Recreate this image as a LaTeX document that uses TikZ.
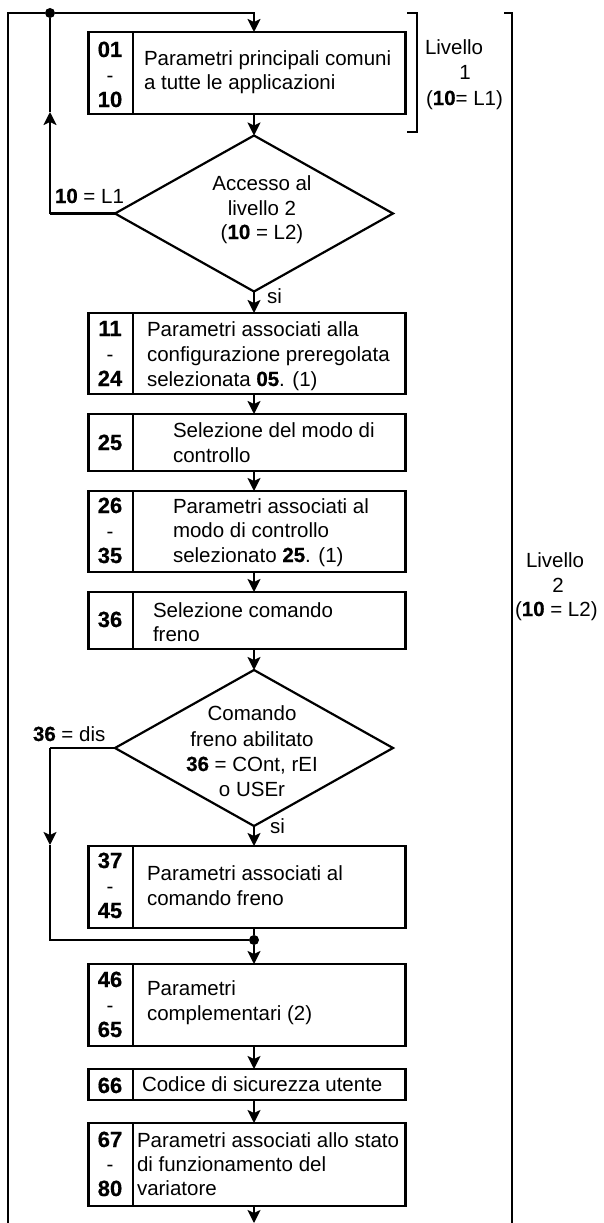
\documentclass[tikz,border=0pt]{standalone}
\usepackage{fontspec}
\setmainfont{Liberation Sans}
\newfontfamily\numfont[BoldFeatures={FakeBold=0.6}]{Liberation Sans}
\usetikzlibrary{shapes.geometric,arrows.meta}
\tikzset{
  ln/.style={line width=2.2pt},
  arr/.style={ln,-{Stealth[length=13pt,width=13pt,inset=3pt]}},
  box/.style={draw,ln,rectangle,anchor=north west,minimum width=317pt,inner sep=0pt,outer sep=0pt},
  dia/.style={draw,ln,diamond,minimum width=278pt,minimum height=156pt,inner sep=0pt,outer sep=0pt},
  txt/.style={font=\fontsize{20.5}{25}\selectfont,anchor=base west,inner sep=0pt,outer sep=0pt},
  ctxt/.style={txt,anchor=base},
  num/.style={font=\fontsize{22}{25}\selectfont\numfont\bfseries,anchor=base,inner sep=0pt},
  dsh/.style={font=\fontsize{20.5}{25}\selectfont,anchor=base,inner sep=0pt},
  dotn/.style={circle,fill,minimum size=10pt,inner sep=0pt},
}
\newcommand{\bn}[1]{{\numfont\bfseries #1}}
\begin{document}
\begin{tikzpicture}[x=1pt,y=-1pt]
\useasboundingbox (0,0) rectangle (604,1223);

% boxes
\node[box,minimum height=82pt] (b1) at (88.5,32) {};
\node[box,minimum height=81pt] (b2) at (88.5,313) {};
\node[box,minimum height=57pt] (b3) at (88.5,414) {};
\node[box,minimum height=81pt] (b4) at (88.5,491) {};
\node[box,minimum height=57pt] (b5) at (88.5,592) {};
\node[box,minimum height=82pt] (b6) at (88.5,846) {};
\node[box,minimum height=82pt] (b7) at (88.5,964) {};
\node[box,minimum height=31pt] (b8) at (88.5,1069) {};
\node[box,minimum height=83pt] (b9) at (88.5,1123) {};
\foreach \b in {b1,b2,b3,b4,b5,b6,b7,b8,b9}
  \draw[ln] ([xshift=44.5pt]\b.north west) -- ([xshift=44.5pt]\b.south west);

% diamonds
\node[dia] (d1) at (254,213.5) {};
\node[dia] (d2) at (254,748) {};

% top loop
\coordinate (tl) at (8,13);
\node[dotn] (dot1) at (50,13) {};
\coordinate (tr) at (254,13);
\coordinate (bl) at (8,1223);
\draw[ln] (bl) -- (tl) -- (dot1);
\draw[arr] (dot1) -- (tr) -- (b1.north -| tr);
\coordinate (c1) at (50,213.5);
\coordinate (m1) at (50,112);
\draw[ln] (d1.west) -- (c1);
\draw[arr] (c1) -- (m1);
\draw[ln] (m1) -- (dot1);

% main flow arrows
\draw[arr] (b1.south -| d1.north) -- (d1.north);
\draw[arr] (d1.south) -- (b2.north -| d1.south);
\draw[arr] (b2.south -| d1.south) -- (b3.north -| d1.south);
\draw[arr] (b3.south -| d1.south) -- (b4.north -| d1.south);
\draw[arr] (b4.south -| d1.south) -- (b5.north -| d1.south);
\draw[arr] (b5.south -| d2.north) -- (d2.north);
\draw[arr] (d2.south) -- (b6.north -| d2.south);
\node[dotn] (dot2) at (254,940) {};
\draw[ln] (b6.south -| dot2) -- (dot2);
\draw[arr] (dot2) -- (b7.north -| dot2);
\draw[arr] (b7.south -| dot2) -- (b8.north -| dot2);
\draw[arr] (b8.south -| dot2) -- (b9.north -| dot2);
\coordinate (endp) at (254,1223);
\draw[arr] (b9.south -| endp) -- (endp);

% second loop
\coordinate (c2) at (50,748);
\coordinate (m2) at (50,845);
\coordinate (c3) at (50,940);
\draw[ln] (d2.west) -- (c2);
\draw[arr] (c2) -- (m2);
\draw[ln] (m2) -- (c3) -- (dot2);

% brackets
\draw[ln] (407,13) -- (417,13) -- (417,132) -- (407,132);
\draw[ln] (504,13) -- (512,13) -- (512,1223);

% numbers
\node[num] (n1a) at (110,57) {01};
\node[dsh] (n1b) at (110,82) {-};
\node[num] (n1c) at (110,107) {10};
\node[num] (n2a) at (110,336) {11};
\node[dsh] (n2b) at (110,361) {-};
\node[num] (n2c) at (110,386) {24};
\node[num] (n3a) at (110,450) {25};
\node[num] (n4a) at (110,513) {26};
\node[dsh] (n4b) at (110,538) {-};
\node[num] (n4c) at (110,563) {35};
\node[num] (n5a) at (110,627) {36};
\node[num] (n6a) at (110,868) {37};
\node[dsh] (n6b) at (110,893) {-};
\node[num] (n6c) at (110,918) {45};
\node[num] (n7a) at (110,987) {46};
\node[dsh] (n7b) at (110,1012) {-};
\node[num] (n7c) at (110,1037) {65};
\node[num] (n8a) at (110,1093) {66};
\node[num] (n9a) at (110,1147) {67};
\node[dsh] (n9b) at (110,1171) {-};
\node[num] (n9c) at (110,1196) {80};

% box texts
\node[txt] (t1a) at (144,66) {Parametri principali comuni};
\node[txt] (t1b) at (144,89) {a tutte le applicazioni};
\node[txt] (t2a) at (147,336) {Parametri associati alla};
\node[txt] (t2b) at (147,361) {configurazione preregolata};
\node[txt] (t2c) at (147,386) {selezionata \bn{05}. (1)};
\node[txt] (t3a) at (173,437) {Selezione del modo di};
\node[txt] (t3b) at (173,462) {controllo};
\node[txt] (t4a) at (173,513) {Parametri associati al};
\node[txt] (t4b) at (173,537) {modo di controllo};
\node[txt] (t4c) at (173,562) {selezionato \bn{25}. (1)};
\node[txt] (t5a) at (153,617) {Selezione comando};
\node[txt] (t5b) at (153,641) {freno};
\node[txt] (t6a) at (147,880) {Parametri associati al};
\node[txt] (t6b) at (147,905) {comando freno};
\node[txt] (t7a) at (147,995) {Parametri};
\node[txt] (t7b) at (147,1020) {complementari (2)};
\node[txt] (t8a) at (142,1091) {Codice di sicurezza utente};
\node[txt] (t9a) at (137,1147) {Parametri associati allo stato};
\node[txt] (t9b) at (137,1171) {di funzionamento del};
\node[txt] (t9c) at (137,1195) {variatore};

% diamond texts
\node[ctxt] (q1a) at (262,190) {Accesso al};
\node[ctxt] (q1b) at (262,215) {livello 2};
\node[ctxt] (q1c) at (262,239) {(\bn{10} = L2)};
\node[ctxt] (q2a) at (252,720) {Comando};
\node[ctxt] (q2b) at (252,746) {freno abilitato};
\node[ctxt] (q2c) at (252,771) {\bn{36} = COnt, rEI};
\node[ctxt] (q2d) at (252,796) {o USEr};

% branch labels
\node[txt] (l1) at (55,203) {\bn{10} = L1};
\node[txt] (l2) at (33,741) {\bn{36} = dis};
\node[txt] (s1) at (267,303) {si};
\node[txt] (s2) at (270,833) {si};

% level labels
\node[txt] (v1a) at (425,55) {Livello};
\node[ctxt] (v1b) at (465,80) {1};
\node[txt] (v1c) at (426,105) {(\bn{10}= L1)};
\node[txt] (v2a) at (526,567) {Livello};
\node[ctxt] (v2b) at (558,592) {2};
\node[txt] (v2c) at (515,616) {(\bn{10} = L2)};
\end{tikzpicture}
\end{document}
